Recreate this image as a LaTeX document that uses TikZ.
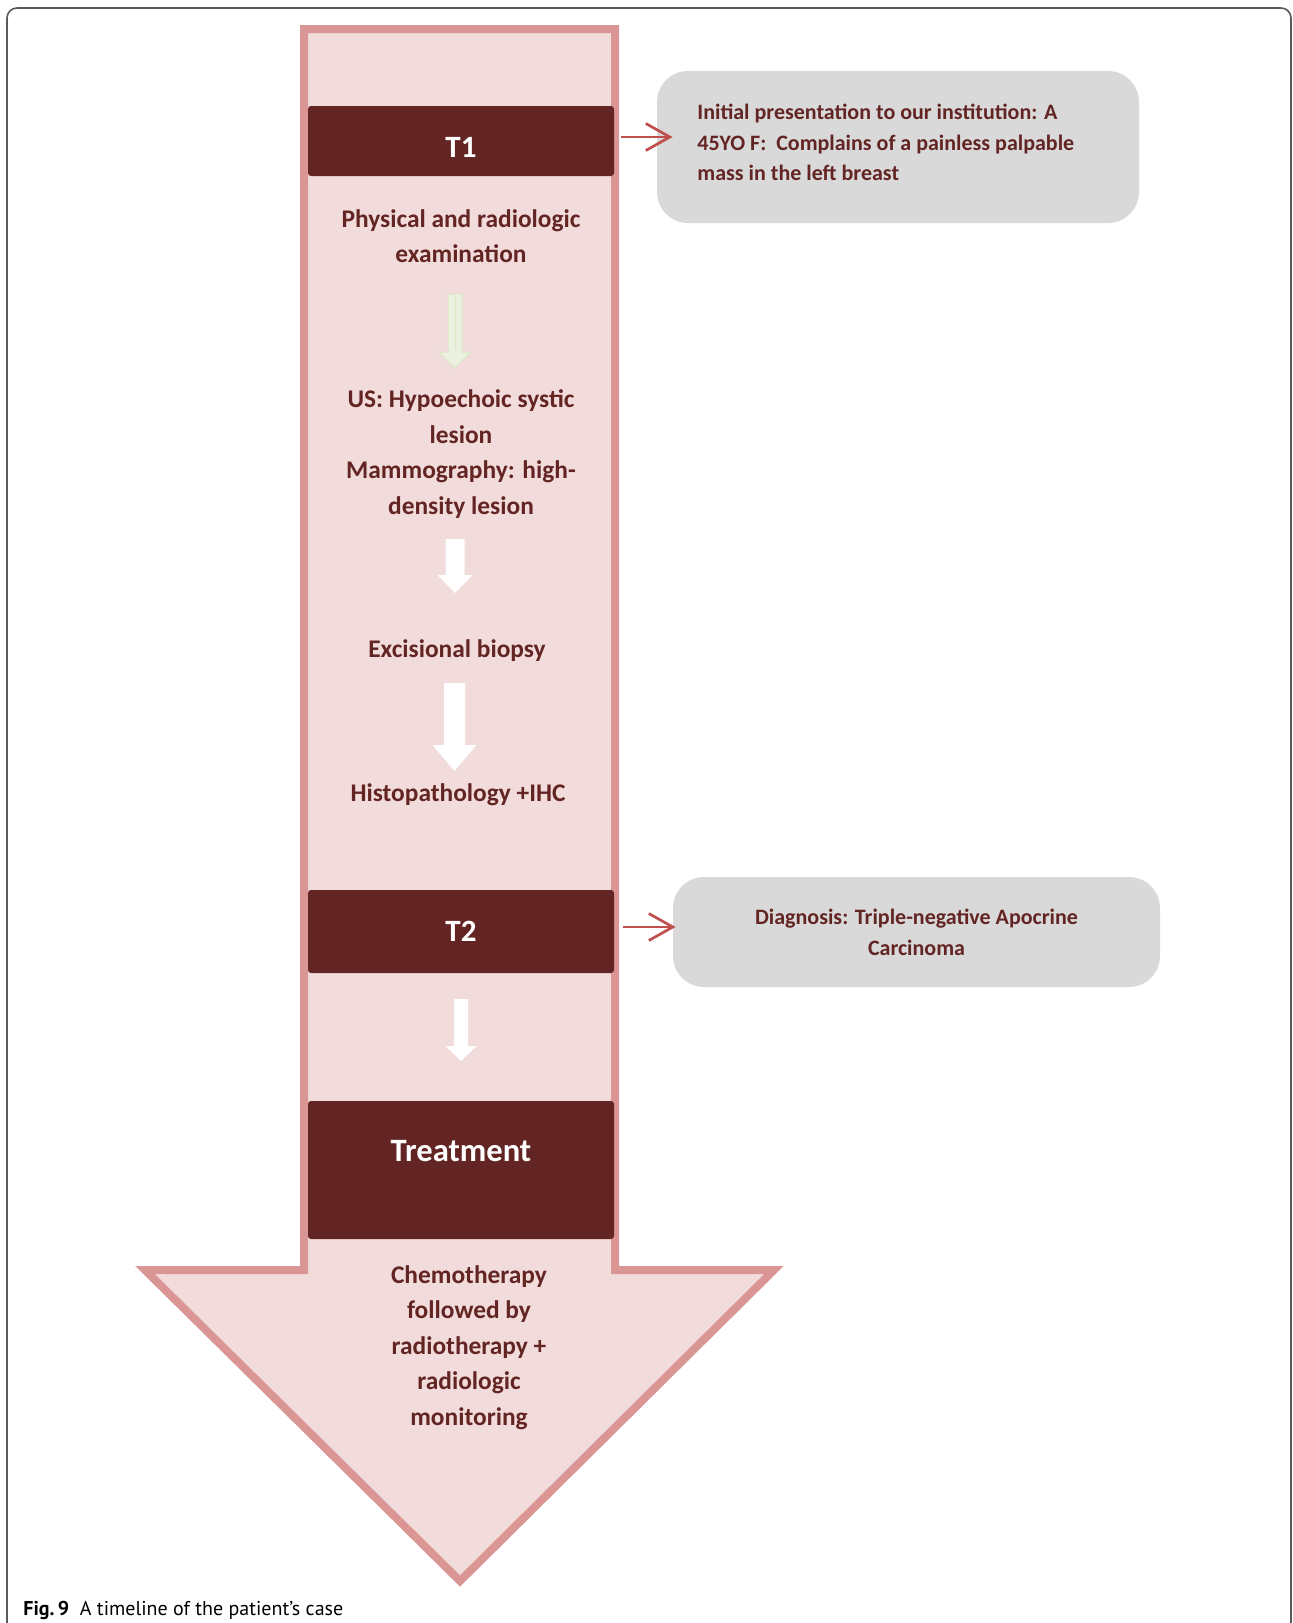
\documentclass[tikz,border=0pt]{standalone}
\usepackage{fontspec}
\setmainfont{Carlito}
\newfontfamily\capfont{PT Sans}
\usetikzlibrary{arrows.meta}
\definecolor{darkred}{HTML}{632523}
\definecolor{pinkline}{HTML}{D99694}
\definecolor{pinkfill}{HTML}{F2DCDB}
\definecolor{boxgray}{HTML}{D9D9D9}
\definecolor{arrowred}{HTML}{C0504D}
\definecolor{palegreen}{HTML}{EBF1DE}
\definecolor{palegreenline}{HTML}{DCE6C8}
\definecolor{framegray}{HTML}{5A5A5A}
\begin{document}
\begin{tikzpicture}[x=0.5pt,y=-0.5pt,
  darkbox/.style={fill=darkred, rounded corners=1.5pt, minimum width=153pt, text=white, font=\fontsize{15.5}{18}\selectfont\bfseries, inner sep=0pt},
  steptext/.style={text=darkred, align=center, font=\fontsize{12.7}{17.75}\selectfont\bfseries, inner sep=0pt},
  infobox/.style={fill=boxgray, rounded corners=15.5pt, text=darkred, inner sep=0pt},
  whitearrow/.style={fill=white, draw=none},
  redarrow/.style={draw=arrowred, line width=1.35pt, -{Straight Barb[length=12pt, width=13.5pt, line width=1.35pt]}}
]
\useasboundingbox (0,0) rectangle (1292,1623);
% outer frame
\draw[framegray, line width=0.8pt, rounded corners=5pt] (7,1640) -- (7,8) -- (1291,8) -- (1291,1640);
% big arrow
\draw[pinkline, fill=pinkfill, line width=4pt, line join=miter]
  (304,29) -- (615,29) -- (615,1270) -- (774,1270) -- (460,1581) -- (145,1270) -- (304,1270) -- cycle;
% dark boxes
\node[darkbox, minimum height=35pt, text height=16pt] (T1) at (461,141) {T1};
\node[darkbox, minimum height=41.5pt] (T2) at (461,931.5) {T2};
\node[darkbox, minimum height=69pt] (Tr) at (461,1170) {};
\node[text=white, font=\fontsize{16.3}{19}\selectfont\bfseries, inner sep=0pt] (TrText) at (461,1151) {Treatment};
% step texts
\node[steptext] (phys) at (461,236) {Physical and radiologic\\examination};
\node[steptext] (us) at (461,454) {US: Hypoechoic systic\\lesion\\Mammography: high-\\density lesion};
\node[steptext] (exc) at (457,651) {Excisional biopsy};
\node[steptext] (histo) at (458,795) {Histopathology +IHC};
\node[steptext] (chemo) at (469,1347.5) {Chemotherapy\\followed by\\radiotherapy +\\radiologic\\monitoring};
% inner arrows
\draw[fill=palegreen, draw=palegreenline, line width=0.5pt]
  (448,294) -- (462,294) -- (462,352) -- (471,352) -- (455,368) -- (439,352) -- (448,352) -- cycle;
\draw[palegreenline, line width=0.5pt] (455,296) -- (455,350);
\fill[whitearrow] (445.5,539) -- (464.5,539) -- (464.5,575) -- (472.5,575) -- (455,593) -- (437.5,575) -- (445.5,575) -- cycle;
\fill[whitearrow] (444,683) -- (465,683) -- (465,745) -- (476.5,745) -- (454.5,771) -- (432.5,745) -- (444,745) -- cycle;
\fill[whitearrow] (454,999) -- (468,999) -- (468,1046) -- (476.5,1046) -- (461,1061) -- (445.5,1046) -- (454,1046) -- cycle;
% info boxes
\node[infobox, minimum width=241pt, minimum height=76pt] (box1) at (898,147) {};
\node[anchor=west, inner sep=0pt, text=darkred, align=left,
      font=\fontsize{11}{15.25}\selectfont\bfseries] (box1text) at (697,142.5)
  {Initial presentation to our institution: A\\45YO F:\ \ Complains of a painless palpable\\mass in the left breast};
\node[infobox, minimum width=243.5pt, minimum height=55pt, align=center,
      font=\fontsize{11}{15.5}\selectfont\bfseries] (box2) at (916.5,932)
  {Diagnosis: Triple-negative Apocrine\\Carcinoma};
% red connectors
\coordinate (a1) at ([xshift=3.5pt,yshift=2pt]T1.east);
\draw[redarrow] (a1) -- ([xshift=8pt]a1 -| box1.west);
\coordinate (a2) at ([xshift=4.5pt,yshift=2.25pt]T2.east);
\draw[redarrow] (a2) -- ([xshift=1.5pt]a2 -| box2.west);
% caption
\node[anchor=base west, inner sep=0pt, font=\capfont\fontsize{10}{12}\selectfont] (cap) at (23,1615)
  {\textbf{Fig.\,9}\ \ A timeline of the patient’s case};
\end{tikzpicture}
\end{document}
